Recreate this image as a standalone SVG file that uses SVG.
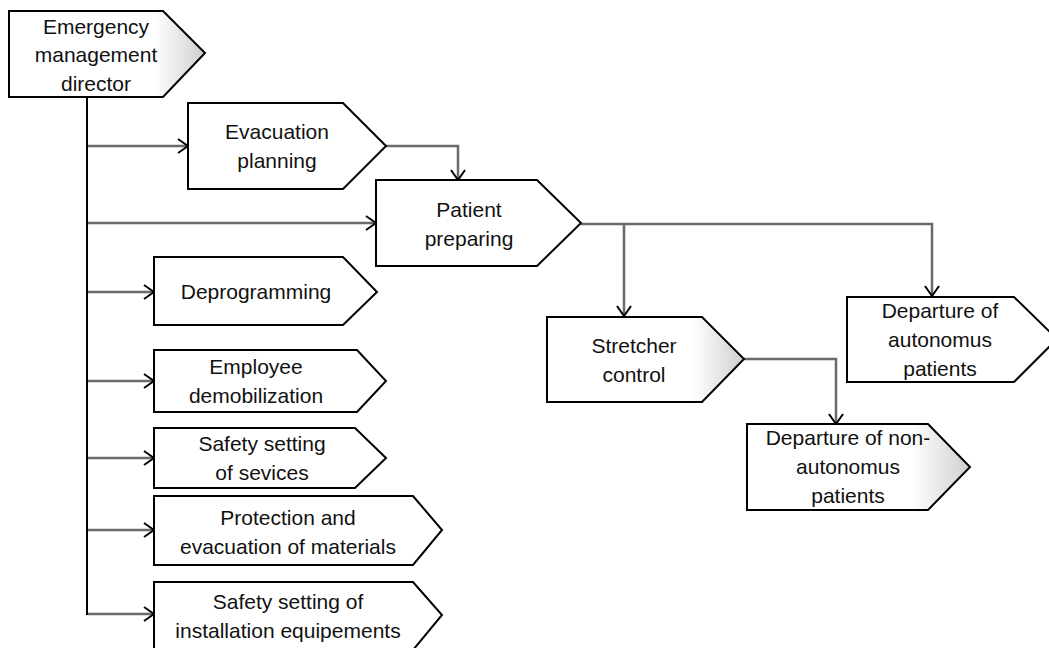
<svg xmlns="http://www.w3.org/2000/svg" width="1049" height="648" viewBox="0 0 1049 648">
<style>
.n{fill:#fff;stroke:#000;stroke-width:2;stroke-linejoin:miter}
.s{fill:url(#shade);stroke:#000;stroke-width:2}
.t{font-family:"Liberation Sans",Arial,sans-serif;font-size:21px;fill:#111;text-anchor:middle}
.c{fill:none;stroke:#6a6a6a;stroke-width:2.5}
.trunk{fill:none;stroke:#000;stroke-width:2}
</style>
<defs>
<linearGradient id="shade" x1="0" y1="0" x2="1" y2="0">
<stop offset="0.74" stop-color="#fff"/>
<stop offset="1" stop-color="#cfcfcf"/>
</linearGradient>
<marker id="ah" viewBox="0 0 12 16" refX="11" refY="8" markerWidth="12" markerHeight="16" markerUnits="userSpaceOnUse" orient="auto">
<path d="M1,1 L11,8 L1,15" fill="none" stroke="#000" stroke-width="2"/>
</marker>
</defs>
<g id="connectors">
<line class="trunk" x1="87" y1="97" x2="87" y2="615"/>
<path class="c" d="M88,146 H188" marker-end="url(#ah)"/>
<path class="c" d="M88,223 H376" marker-end="url(#ah)"/>
<path class="c" d="M88,292 H154" marker-end="url(#ah)"/>
<path class="c" d="M88,381 H154" marker-end="url(#ah)"/>
<path class="c" d="M88,458 H154" marker-end="url(#ah)"/>
<path class="c" d="M88,530 H154" marker-end="url(#ah)"/>
<path class="c" d="M88,614 H154" marker-end="url(#ah)"/>
<path class="c" d="M386,146 H458 V180" marker-end="url(#ah)"/>
<path class="c" d="M581,224 H932 V296" marker-end="url(#ah)"/>
<path class="c" d="M624,224 V316" marker-end="url(#ah)"/>
<path class="c" d="M744,359 H836 V424" marker-end="url(#ah)"/>
</g>
<g id="director">
<polygon class="s" points="9,11 163,11 205,53 163,97 9,97"/>
<text class="t" x="96" y="34">Emergency</text>
<text class="t" x="96" y="62">management</text>
<text class="t" x="96" y="91">director</text>
</g>
<g id="evacuation-planning">
<polygon class="n" points="188,103 343,103 386,146 343,189 188,189"/>
<text class="t" x="277" y="139">Evacuation</text>
<text class="t" x="277" y="168">planning</text>
</g>
<g id="patient-preparing">
<polygon class="n" points="376,180 537,180 581,223 537,266 376,266"/>
<text class="t" x="469" y="217">Patient</text>
<text class="t" x="469" y="246">preparing</text>
</g>
<g id="deprogramming">
<polygon class="n" points="154,257 343,257 377,292 343,325 154,325"/>
<text class="t" x="256" y="299">Deprogramming</text>
</g>
<g id="employee-demobilization">
<polygon class="n" points="154,350 357,350 386,381 357,412 154,412"/>
<text class="t" x="256" y="374">Employee</text>
<text class="t" x="256" y="403">demobilization</text>
</g>
<g id="safety-services">
<polygon class="n" points="154,428 355,428 386,458 355,488 154,488"/>
<text class="t" x="262" y="451">Safety setting</text>
<text class="t" x="262" y="480">of sevices</text>
</g>
<g id="protection-materials">
<polygon class="n" points="154,496 413,496 442,530 413,565 154,565"/>
<text class="t" x="288" y="525">Protection and</text>
<text class="t" x="288" y="554">evacuation of materials</text>
</g>
<g id="safety-installation">
<polygon class="n" points="154,582 413,582 442,615 413,650 154,650"/>
<text class="t" x="288" y="609">Safety setting of</text>
<text class="t" x="288" y="638">installation equipements</text>
</g>
<g id="stretcher-control">
<polygon class="s" points="547,317 702,317 744,359 702,402 547,402"/>
<text class="t" x="634" y="353">Stretcher</text>
<text class="t" x="634" y="382">control</text>
</g>
<g id="departure-autonomus">
<polygon class="n" points="847,297 1014,297 1057,339 1014,382 847,382"/>
<text class="t" x="940" y="318">Departure of</text>
<text class="t" x="940" y="347">autonomus</text>
<text class="t" x="940" y="376">patients</text>
</g>
<g id="departure-non-autonomus">
<polygon class="s" points="747,424 928,424 970,467 928,510 747,510"/>
<text class="t" x="848" y="445">Departure of non-</text>
<text class="t" x="848" y="474">autonomus</text>
<text class="t" x="848" y="503">patients</text>
</g>
</svg>
